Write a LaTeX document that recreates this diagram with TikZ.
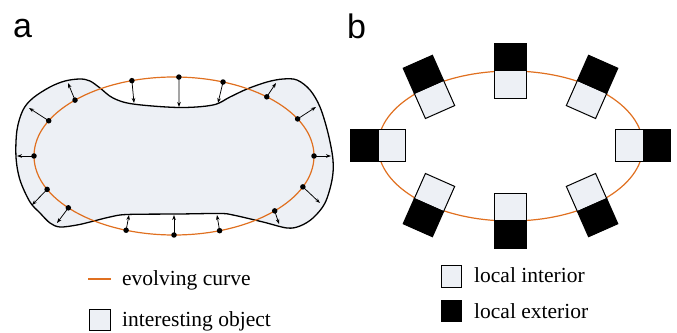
\documentclass[tikz,border=0pt]{standalone}
\usepackage{fontspec}
\setmainfont{Liberation Serif}
\newfontfamily\labelfont{Liberation Sans}
\usetikzlibrary{arrows.meta}

\definecolor{curveorange}{RGB}{224,112,32}
\definecolor{objfill}{RGB}{237,240,245}

\tikzset{
  outline/.style={draw=black, line width=1.3pt},
  curve/.style={draw=curveorange, line width=1.2pt},
  dot/.style={circle, fill=black, inner sep=0pt, minimum size=5.5pt},
  arr/.style={line width=0.75pt, -{Stealth[length=5pt,width=3.6pt]}},
  incell/.style={draw=black, fill=objfill, line width=1pt, minimum width=32pt,
                 minimum height=27.5pt, inner sep=0pt, outer sep=0pt},
  excell/.style={draw=black, fill=black, line width=1pt, minimum width=32pt,
                 minimum height=27.5pt, inner sep=0pt, outer sep=0pt},
  legtext/.style={font=\fontsize{21.5}{24}\selectfont, anchor=base west, inner sep=0pt},
  panellabel/.style={font=\labelfont\fontsize{34}{38}\selectfont, anchor=base west, inner sep=0pt}
}

\begin{document}
\begin{tikzpicture}[x=1pt, y=1pt]
\useasboundingbox (0,0) rectangle (677,332);

% ---------- panel a ----------
\node[panellabel] (la) at (13,294) {a};

% the object being segmented
\filldraw[outline, fill=objfill] plot[smooth cycle, tension=0.55] coordinates {
  (16,175) (17,202) (23,222) (33,234) (50,245) (65,251) (80,253) (90,251)
  (100,244) (113,234) (133,228) (179,224.5) (213,227) (230,235) (247,243)
  (267,250) (283,253) (297,252) (310,242) (320,225) (328,199) (333,172)
  (332,152) (325,129) (313,114) (300,106) (287,104) (263,110) (233,117)
  (220,118.5) (179,118) (127,117.5) (110,115) (90,110) (77,107) (60,105)
  (50,109) (40,119) (30,130) (20,152)
};

% evolving curve with its sample points and motion vectors
\coordinate (ca) at (174,176);
\draw[curve] (ca) ellipse [x radius=140, y radius=79];
\foreach \t/\tx/\ty [count=\i] in {
  88/179/225, 107.5/134/229, 69.5/218/229, 135/68/249, 153.5/29/224,
  180/17/176, 205/32/127, 221/57/109, 250/129/117, 270/174/117,
  289/217/117, 316/279/108, 337/320/129, 0/331/176, 28/316/225, 48.5/276/249} {
  \path (ca) ++(\t:140 and 79) node[dot] (d\i) {};
  \coordinate (t\i) at (\tx,\ty);
  \draw[arr] (d\i.center) -- (t\i);
}

% legend a
\coordinate (l1a) at (88,53);
\coordinate (l1b) at (111,53);
\draw[curve] (l1a) -- (l1b);
\node[legtext] (lt1) at (122,46.3) {evolving curve};
\node[draw=black, fill=objfill, line width=1pt, minimum size=21pt, inner sep=0pt]
  (lb1) at (99.5,12.5) {};
\node[legtext] (lt2) at (122,6) {interesting object};

% ---------- panel b ----------
\node[panellabel] (lb) at (347,293) {b};

\coordinate (cb) at (510.5,186);
\draw[curve] (cb) ellipse [x radius=132.5, y radius=75];
\foreach \t/\r [count=\i] in {
  90/0, 128/23.86, 180/90, 232/156.14, 270/180, 308/-156.14, 0/-90, 52/-23.86} {
  \path (cb) ++(\t:132.5 and 75) coordinate (p\i);
  \node[incell, rotate=\r, anchor=north] (in\i) at (p\i) {};
  \node[excell, rotate=\r, anchor=south] (ex\i) at (p\i) {};
}

% legend b
\node[incell, minimum width=20pt, minimum height=21pt] (lb2) at (451,55.5) {};
\node[legtext] (lt3) at (474,49) {local interior};
\node[excell, minimum width=20pt, minimum height=21pt] (lb3) at (451,21) {};
\node[legtext] (lt4) at (474,14) {local exterior};
\end{tikzpicture}
\end{document}
